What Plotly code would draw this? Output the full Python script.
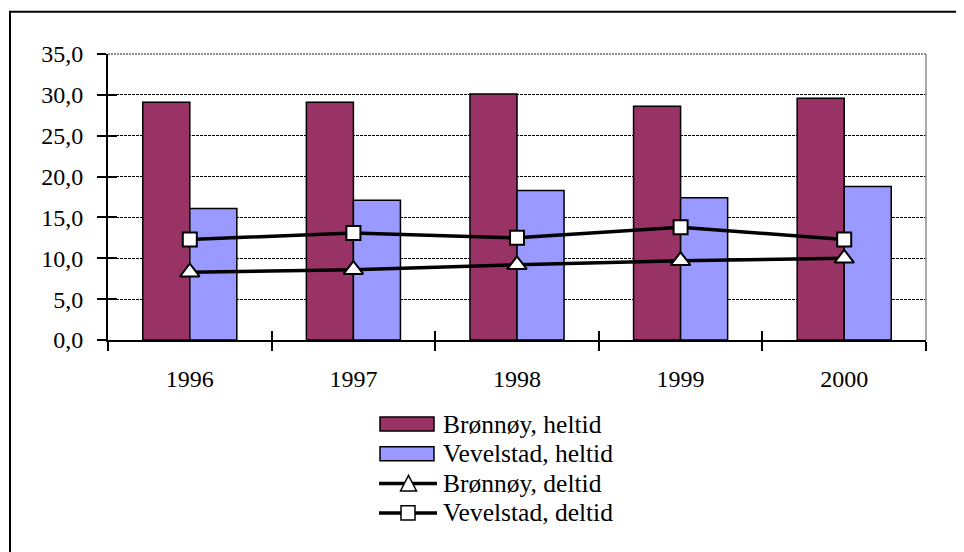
import plotly.graph_objects as go

years = ["1996", "1997", "1998", "1999", "2000"]
bronnoy_heltid = [29.1, 29.1, 30.1, 28.6, 29.6]
vevelstad_heltid = [16.1, 17.1, 18.3, 17.4, 18.8]
bronnoy_deltid = [8.3, 8.6, 9.2, 9.7, 10.0]
vevelstad_deltid = [12.3, 13.1, 12.5, 13.8, 12.3]
series_names = ["Brønnøy, heltid", "Vevelstad, heltid", "Brønnøy, deltid", "Vevelstad, deltid"]
y_ticks = [0, 5, 10, 15, 20, 25, 30, 35]

# page body has an 8px margin, so work in coordinates shifted by 8
OFF = 8
W, H = 964 - OFF, 552 - OFF
L, R, T, B = 108 - OFF, 926 - OFF, 54.3 - OFF, 340 - OFF
FONT = "Liberation Serif, Times New Roman, serif"
C1, C2 = "#993366", "#9999FF"


def px(x):
    return (x - OFF - L) / (R - L)


def py(y):
    return (B - (y - OFF)) / (B - T)


fig = go.Figure()
fig.add_trace(go.Bar(x=years, y=bronnoy_heltid, name=series_names[0],
                     marker=dict(color=C1, line=dict(color="black", width=1.5))))
fig.add_trace(go.Bar(x=years, y=vevelstad_heltid, name=series_names[1],
                     marker=dict(color=C2, line=dict(color="black", width=1.5))))
fig.add_trace(go.Scatter(x=years, y=bronnoy_deltid, name=series_names[2], mode="lines+markers",
                         line=dict(color="black", width=3.5),
                         marker=dict(symbol="triangle-up", size=17, color="white",
                                     line=dict(color="black", width=2))))
fig.add_trace(go.Scatter(x=years, y=vevelstad_deltid, name=series_names[3], mode="lines+markers",
                         line=dict(color="black", width=3.5),
                         marker=dict(symbol="square", size=14, color="white",
                                     line=dict(color="black", width=2))))

shapes = []
# outer chart border (top and left visible)
shapes.append(dict(type="rect", xref="paper", yref="paper", x0=px(10), x1=px(975), y0=py(570), y1=py(12),
                   line=dict(color="black", width=2), fillcolor="rgba(0,0,0,0)", layer="below"))
# plot area border top/right (gray)
shapes.append(dict(type="line", xref="paper", yref="paper", x0=0, x1=1, y0=1, y1=1,
                   line=dict(color="#8c8c8c", width=2, dash="2px,1px")))
shapes.append(dict(type="line", xref="paper", yref="paper", x0=1, x1=1, y0=0, y1=1,
                   line=dict(color="#8c8c8c", width=1.5)))

# custom legend
rows = [424, 453.7, 483.3, 512.7]
annotations = []
for i, (name, yc) in enumerate(zip(series_names, rows)):
    if i < 2:
        shapes.append(dict(type="rect", xref="paper", yref="paper", x0=px(380), x1=px(434),
                           y0=py(yc + 7), y1=py(yc - 7), fillcolor=[C1, C2][i],
                           line=dict(color="black", width=1.5)))
    else:
        shapes.append(dict(type="line", xref="paper", yref="paper", x0=px(379), x1=px(437),
                           y0=py(yc), y1=py(yc), line=dict(color="black", width=3.5)))
        if i == 2:
            path = "M{},{} L{},{} L{},{} Z".format(px(400.5), py(yc + 7.5), px(416.5), py(yc + 7.5),
                                                    px(408.5), py(yc - 8))
            shapes.append(dict(type="path", xref="paper", yref="paper", path=path, fillcolor="white",
                               line=dict(color="black", width=1.5)))
        else:
            shapes.append(dict(type="rect", xref="paper", yref="paper", x0=px(401), x1=px(415),
                               y0=py(yc + 7), y1=py(yc - 7), fillcolor="white",
                               line=dict(color="black", width=1.5)))
    annotations.append(dict(text=name, xref="paper", yref="paper", x=px(441), y=py(yc),
                            xanchor="left", yanchor="middle", showarrow=False,
                            font=dict(family=FONT, size=25.5, color="black")))

fig.update_layout(
    width=W, height=H,
    margin=dict(l=L, r=W - R, t=T, b=H - B, pad=0),
    paper_bgcolor="white", plot_bgcolor="white",
    barmode="group", bargap=0.425, bargroupgap=0,
    showlegend=False,
    separators=", ",
    font=dict(family=FONT, size=24, color="black"),
    shapes=shapes, annotations=annotations,
    xaxis=dict(type="category", showgrid=False, showline=True, linecolor="black", linewidth=2,
               ticks="outside", ticklen=9, tickwidth=1.5, tickcolor="black", tickson="boundaries",
               ticklabelstandoff=16, tickfont=dict(family=FONT, size=24, color="black")),
    xaxis2=dict(type="category", overlaying="x", matches="x", showgrid=False, showline=False,
                ticks="inside", ticklen=9, tickwidth=1.5, tickcolor="black", tickson="boundaries",
                showticklabels=False, side="bottom"),
    yaxis=dict(range=[0, 35], tickvals=y_ticks, tickformat=".1f", showgrid=True, gridcolor="black",
               gridwidth=1, griddash="3px,1px", showline=True, linecolor="black", linewidth=2,
               ticks="outside", ticklen=9, tickwidth=1.5, tickcolor="black", zeroline=False,
               ticklabelstandoff=9, tickfont=dict(family=FONT, size=24, color="black")),
    yaxis2=dict(overlaying="y", matches="y", showgrid=False, showline=False, ticks="inside",
                ticklen=9, tickwidth=1.5, tickcolor="black", tickvals=y_ticks, showticklabels=False,
                zeroline=False, side="left"),
)
# invisible trace to activate overlay axes
fig.add_trace(go.Scatter(x=years, y=bronnoy_deltid, xaxis="x2", yaxis="y2", mode="none",
                         showlegend=False, hoverinfo="skip"))

fig.write_html("out.html")
